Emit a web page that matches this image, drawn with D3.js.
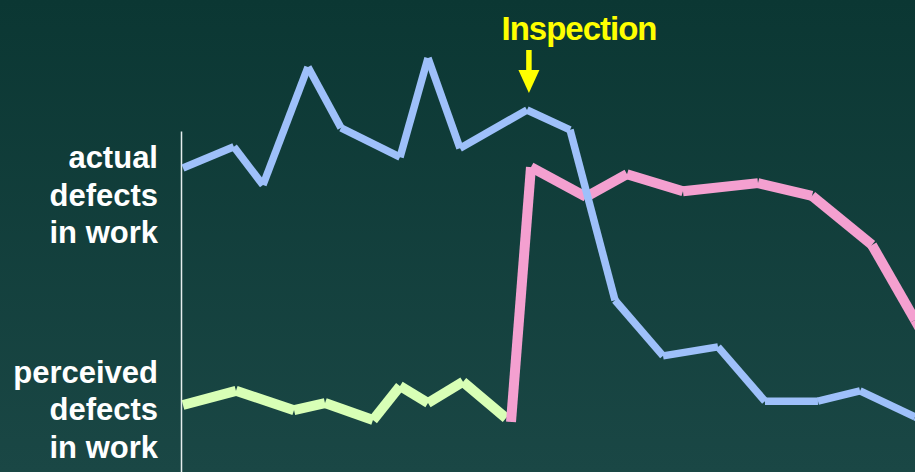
<!DOCTYPE html>
<html>
<head>
<meta charset="utf-8">
<script src="https://cdn.jsdelivr.net/npm/d3@7/dist/d3.min.js"></script>
<style>
  html, body { margin: 0; padding: 0; background: #0b3733; }
  svg { display: block; }
  text { font-family: "Liberation Sans", Arial, Helvetica, sans-serif; font-weight: bold; }
</style>
</head>
<body>
<svg id="chart" width="915" height="472"></svg>
<script>
// Time runs along x (0..100), defect level along y (0..100).
const actualX = [0.27, 7.2, 11.17, 17.3, 21.8, 29.84, 33.65, 38.01, 47.14, 53.0, 59.13, 65.67, 73.16, 79.56, 86.78, 92.51, 100, 103];
const actualY = [64.4, 68.9, 60.8, 85.8, 72.9, 66.7, 87.7, 68.6, 76.7, 72.5, 36.4, 24.6, 26.5, 15.0, 15.0, 17.2, 11.7, 9.5];

// Perceived defects before the inspection
const perceivedBeforeX = [0.27, 7.49, 15.4, 19.62, 26.16, 29.84, 33.65, 38.42, 44.28];
const perceivedBeforeY = [14.2, 17.2, 13.1, 14.6, 11.0, 18.2, 14.6, 19.1, 11.4];

// Perceived defects once the inspection has happened
const perceivedAfterX = [44.96, 47.68, 55.18, 60.76, 68.39, 78.61, 85.97, 94.14, 100, 102.7];
const perceivedAfterY = [10.6, 64.6, 58.3, 63.1, 59.5, 61.2, 58.5, 48.1, 32.2, 24.8];

const seriesLabels = [
  { lines: ["actual", "defects", "in work"], level: 56.4 },
  { lines: ["perceived", "defects", "in work"], level: 11.0 }
];
const eventLabel = "Inspection";
const eventX = 47.4;

const W = 915, H = 472;
const svg = d3.select("#chart");

// Background gradient
const defs = svg.append("defs");
const grad = defs.append("linearGradient").attr("id", "bg").attr("x1", 0).attr("y1", 0).attr("x2", 0).attr("y2", 1);
grad.append("stop").attr("offset", "0%").attr("stop-color", "#0b3733");
grad.append("stop").attr("offset", "100%").attr("stop-color", "#1a4745");
svg.append("rect").attr("width", W).attr("height", H).attr("fill", "url(#bg)");

const x = d3.scaleLinear().domain([0, 100]).range([181, 915]);
const y = d3.scaleLinear().domain([0, 100]).range([472, 0]);

// Left axis line
const axisScale = y.copy().domain([0, 72.2]).range([472, 131]);
const axisG = svg.append("g").attr("transform", `translate(${x(0)},0)`)
  .call(d3.axisLeft(axisScale).tickValues([]).tickSize(0));
axisG.select(".domain").attr("stroke", "#e6eeee").attr("stroke-width", 1.5);

// Each step of a series is drawn as its own stroke
function drawSegments(xs, ys, color, width) {
  const pts = xs.map((v, i) => [x(v), y(ys[i])]);
  const segs = d3.pairs(pts);
  svg.append("g").selectAll("line").data(segs).join("line")
    .attr("x1", d => d[0][0]).attr("y1", d => d[0][1])
    .attr("x2", d => d[1][0]).attr("y2", d => d[1][1])
    .attr("stroke", color).attr("stroke-width", width)
    .attr("stroke-linecap", "butt");
}

drawSegments(perceivedBeforeX, perceivedBeforeY, "#d8ffb6", 10);
drawSegments(perceivedAfterX, perceivedAfterY, "#f4a0d0", 10);
drawSegments(actualX, actualY, "#9ec0fa", 7.5);

// Series labels
seriesLabels.forEach(lab => {
  const t = svg.append("text")
    .attr("text-anchor", "end")
    .attr("fill", "#ffffff")
    .attr("font-size", 31);
  lab.lines.forEach((ln, i) => {
    t.append("tspan").attr("x", 158).attr("y", y(lab.level) + (i - 1) * 37.5).text(ln);
  });
});

// Inspection marker
const ex = x(eventX);
svg.append("text")
  .attr("x", 579).attr("y", 39.5)
  .attr("text-anchor", "middle")
  .attr("fill", "#ffff00")
  .attr("font-size", 33)
  .attr("letter-spacing", -1)
  .text(eventLabel);
svg.append("line")
  .attr("x1", ex).attr("x2", ex).attr("y1", 50).attr("y2", 72)
  .attr("stroke", "#ffff00").attr("stroke-width", 5.5);
svg.append("path")
  .attr("d", `M${ex - 10.5},70 L${ex + 10.5},70 L${ex},93 Z`)
  .attr("fill", "#ffff00");
</script>
</body>
</html>
